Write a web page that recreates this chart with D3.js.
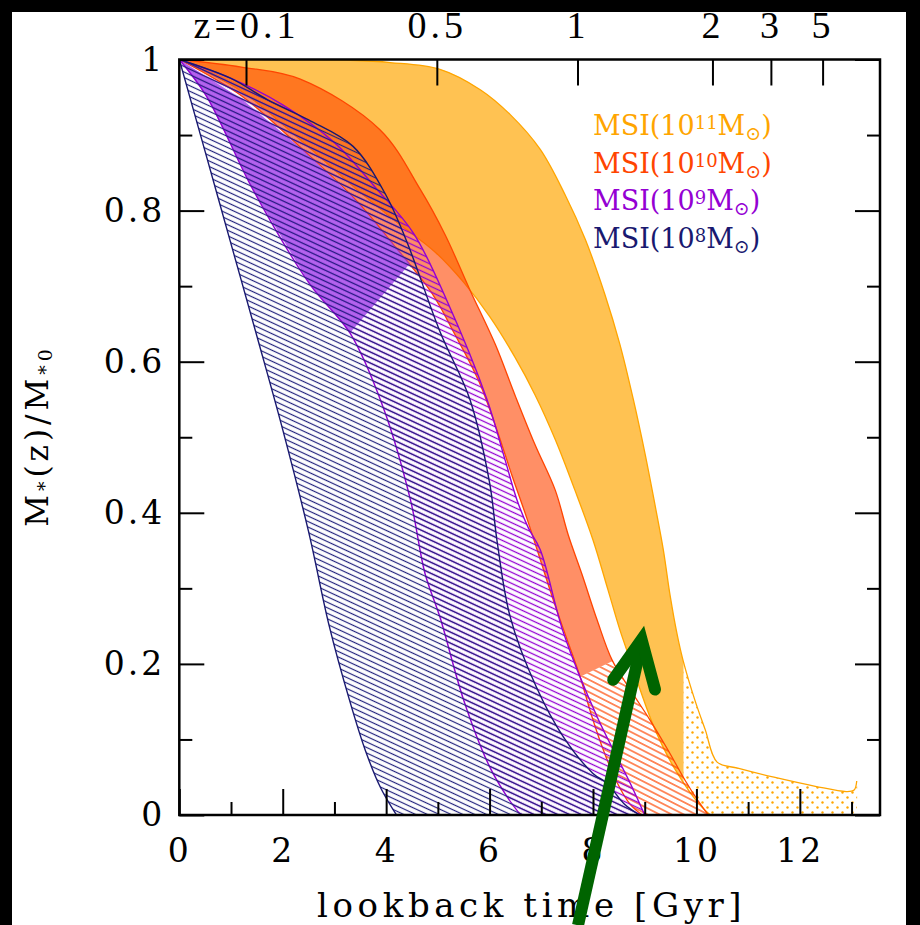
<!DOCTYPE html>
<html>
<head>
<meta charset="utf-8">
<script src="https://cdn.jsdelivr.net/npm/d3@7"></script>
<style>
  html, body { margin: 0; padding: 0; background: #000; }
  svg { display: block; }
</style>
</head>
<body>
<svg id="chart" width="920" height="925"></svg>
<script>
// ---- axes ----
const xMajor = [0, 2, 4, 6, 8, 10, 12];
const xMinor = [1, 3, 5, 7, 9, 11, 13];
const yMajor = [0, 0.2, 0.4, 0.6, 0.8, 1];
const yMinor = [0.1, 0.3, 0.5, 0.7, 0.9];
const yLabels = ["0", "0.2", "0.4", "0.6", "0.8", "1"];
// redshift ticks on the top axis, placed at their lookback time (Gyr)
const zLabels = ["z=0.1", "0.5", "1", "2", "3", "5"];
const zLookback = [1.29, 4.98, 7.70, 10.31, 11.44, 12.44];

// ---- MSI bands: [lookback time (Gyr), M*(z)/M*0] ----
const m11Outer = [[0,1],[2,1],[3.3,0.999],[4.08,0.996],[5.04,0.987],[5.82,0.96],[6.4,0.927],[6.98,0.881],[7.46,0.821],[7.85,0.762],[8.23,0.689],[8.52,0.623],[8.78,0.55],[9.01,0.477],[9.2,0.41],[9.36,0.351],[9.49,0.291],[9.63,0.238],[9.74,0.205],[9.97,0.152],[10.17,0.113],[10.4,0.07],[10.8,0.062],[11.5,0.05],[12.3,0.038],[12.9,0.031],[13.05,0.033],[13.1,0.045],[13.1,0]];
const m11Inner = [[0,1],[1.2,0.958],[2.4,0.89],[3.4,0.83],[4.2,0.785],[4.95,0.745],[5.5,0.705],[6.0,0.66],[6.49,0.606],[6.88,0.556],[7.27,0.497],[7.65,0.43],[8.0,0.364],[8.29,0.298],[8.52,0.245],[8.72,0.205],[8.91,0.166],[9.2,0.113],[9.59,0.06],[10.07,0.013],[10.27,0],[13.1,0]];
const m11Split = 9.75;   // dense fill below, dotted beyond

const m10Outer = [[0,1],[1.2,0.99],[2.34,0.974],[3.88,0.907],[4.66,0.828],[5.14,0.768],[5.62,0.695],[6.11,0.623],[6.49,0.556],[6.88,0.49],[7.27,0.43],[7.52,0.371],[7.79,0.318],[8.08,0.258],[8.37,0.205],[8.72,0.166],[9.1,0.126],[9.45,0.086],[9.78,0.046],[10.02,0.02],[10.23,0]];
const m10Inner = [[0,1],[1.2,0.952],[2.4,0.88],[3.4,0.815],[4.2,0.75],[4.89,0.69],[5.33,0.636],[5.78,0.576],[6.14,0.51],[6.43,0.45],[6.73,0.391],[6.98,0.338],[7.23,0.285],[7.5,0.232],[7.75,0.183],[7.98,0.13],[8.2,0.086],[8.45,0.045],[8.72,0.014],[8.95,0]];
const m10Cut = [[7.75,0.183],[8.42,0.205]];   // dense above, hatched below

const m9Outer = [[0,1],[1,0.975],[2,0.94],[3,0.89],[3.8,0.83],[4.53,0.77],[5.18,0.68],[5.95,0.55],[6.3,0.47],[6.53,0.417],[6.75,0.38],[6.98,0.351],[7.43,0.241],[8.08,0.13],[8.72,0.042],[9.0,0]];
const m9Inner = [[0,1],[0.53,0.951],[1.43,0.827],[2.53,0.702],[3.3,0.638],[3.94,0.54],[4.47,0.417],[4.75,0.32],[5.04,0.262],[5.5,0.152],[6.0,0.064],[6.34,0.024],[6.6,0]];
const m9Core = [[0,1],[0.53,0.951],[1.43,0.827],[2.53,0.702],[3.3,0.638],[4.46,0.73],[3.4,0.815],[2.4,0.88],[1.2,0.948],[0,1]];

const m8Outer = [[0,1],[1,0.975],[1.7,0.947],[2.5,0.92],[3.36,0.885],[4.0,0.82],[4.41,0.757],[5.04,0.64],[5.62,0.55],[6.0,0.44],[6.15,0.36],[6.4,0.262],[6.9,0.17],[7.43,0.103],[8.0,0.055],[8.27,0.042],[8.6,0.015],[8.9,0]];
const m8Inner = [[0,1],[0.5,0.878],[1.0,0.756],[1.5,0.634],[2.0,0.51],[2.5,0.375],[2.9,0.25],[3.3,0.15],[3.6,0.085],[3.9,0.035],[4.2,0]];

// ---- legend ----
const legendExp = ["11", "10", "9", "8"];
const legendColors = ["#ffa500", "#ff4500", "#9400d3", "#191970"];

// ---- annotation arrow ----
const arrowShaft = [[7.71,-0.146],[8.94,0.228]];
const arrowHead = [[8.39,0.179],[8.94,0.232],[9.2,0.166]];

// ================= drawing =================
const svg = d3.select("#chart");
const x = d3.scaleLinear().domain([0, 13.55]).range([179.3, 880]);
const y = d3.scaleLinear().domain([0, 1]).range([815, 59.5]);
const [x0, x1] = x.domain();

svg.append("rect").attr("x", 12).attr("y", 12).attr("width", 894).attr("height", 913).attr("fill", "#fff");

const defs = svg.append("defs");
function hatch(id, color, gap, angle, width) {
  const p = defs.append("pattern").attr("id", id)
    .attr("patternUnits", "userSpaceOnUse")
    .attr("width", 12).attr("height", gap)
    .attr("patternTransform", `rotate(${angle})`);
  p.append("line").attr("x1", 0).attr("x2", 12)
    .attr("y1", gap / 2).attr("y2", gap / 2)
    .attr("stroke", color).attr("stroke-width", width);
}
hatch("hNavy", "#23237e", 5, 25, 1.2);
hatch("hPurple", "#9400d3", 5, 25, 1.3);
hatch("hRed", "#ff4500", 5.5, 27, 1.2);
const dots = defs.append("pattern").attr("id", "dOrange")
  .attr("patternUnits", "userSpaceOnUse").attr("width", 10).attr("height", 10);
dots.append("circle").attr("cx", 2.5).attr("cy", 2.5).attr("r", 1.2).attr("fill", "#ffa500");
dots.append("circle").attr("cx", 7.5).attr("cy", 7.5).attr("r", 1.2).attr("fill", "#ffa500");

const line = d3.line().x(d => x(d[0])).y(d => y(d[1])).curve(d3.curveCatmullRom.alpha(0.5));
const poly = d3.line().x(d => x(d[0])).y(d => y(d[1]));
function band(outer, inner) {
  return line(outer) + line(inner.slice().reverse()).replace(/^M/, "L") + "Z";
}

// clip regions
defs.append("clipPath").attr("id", "plot").append("rect")
  .attr("x", x(x0)).attr("y", y(1)).attr("width", x(x1) - x(x0)).attr("height", y(0) - y(1));
defs.append("clipPath").attr("id", "dense11").append("rect")
  .attr("x", 0).attr("y", 0).attr("width", x(m11Split)).attr("height", 925);
defs.append("clipPath").attr("id", "dot11").append("rect")
  .attr("x", x(m11Split)).attr("y", 0).attr("width", 920 - x(m11Split)).attr("height", 925);

// split the 10^10 band along the cut line, extended flat to both ends of the axis
const cutLine = [[x0 - 1, m10Cut[0][1]], ...m10Cut, [x1 + 1, m10Cut[1][1]]];
defs.append("clipPath").attr("id", "top10").append("path")
  .attr("d", poly([[x0 - 1, 1.3], ...cutLine, [x1 + 1, 1.3]]) + "Z");
defs.append("clipPath").attr("id", "bot10").append("path")
  .attr("d", poly([[x0 - 1, -0.3], ...cutLine, [x1 + 1, -0.3]]) + "Z");

const plot = svg.append("g").attr("clip-path", "url(#plot)");

// 10^11 band
const g11 = plot.append("g");
g11.append("path").attr("d", band(m11Outer, m11Inner)).attr("fill", "#ffa500").attr("fill-opacity", 0.68).attr("clip-path", "url(#dense11)");
g11.append("path").attr("d", band(m11Outer, m11Inner)).attr("fill", "url(#dOrange)").attr("clip-path", "url(#dot11)");
g11.append("path").attr("d", line(m11Outer.slice(0, -1))).attr("fill", "none").attr("stroke", "#ffa500").attr("stroke-width", 1.3);
g11.append("path").attr("d", line(m11Inner.slice(0, -1))).attr("fill", "none").attr("stroke", "#ffa500").attr("stroke-width", 1.3);

// 10^10 band
const g10 = plot.append("g");
g10.append("path").attr("d", band(m10Outer, m10Inner)).attr("fill", "#ff4500").attr("fill-opacity", 0.6).attr("clip-path", "url(#top10)");
g10.append("path").attr("d", band(m10Outer, m10Inner)).attr("fill", "url(#hRed)").attr("clip-path", "url(#bot10)");
g10.append("path").attr("d", line(m10Outer)).attr("fill", "none").attr("stroke", "#ff4500").attr("stroke-width", 1.3);
g10.append("path").attr("d", line(m10Inner)).attr("fill", "none").attr("stroke", "#ff4500").attr("stroke-width", 1.3);

// 10^9 band
const g9 = plot.append("g");
g9.append("path").attr("d", band(m9Outer, m9Inner)).attr("fill", "url(#hPurple)");
g9.append("path").attr("d", poly(m9Core) + "Z").attr("fill", "#9b30e8").attr("fill-opacity", 0.75);
g9.append("path").attr("d", line(m9Outer)).attr("fill", "none").attr("stroke", "#9400d3").attr("stroke-width", 1.4);
g9.append("path").attr("d", line(m9Inner)).attr("fill", "none").attr("stroke", "#9400d3").attr("stroke-width", 1.4);

// 10^8 band
const g8 = plot.append("g");
g8.append("path").attr("d", band(m8Outer, m8Inner)).attr("fill", "url(#hNavy)");
g8.append("path").attr("d", line(m8Outer)).attr("fill", "none").attr("stroke", "#191970").attr("stroke-width", 1.4);
g8.append("path").attr("d", line(m8Inner)).attr("fill", "none").attr("stroke", "#191970").attr("stroke-width", 1.4);

// ---- axes ----
const fontNum = "'DejaVu Serif', serif";
function styleAxis(g) {
  g.select(".domain").remove();
  g.selectAll(".tick line").attr("stroke", "#000").attr("stroke-width", 2);
  g.selectAll(".tick text").attr("fill", "#000").style("font-family", fontNum).style("font-size", "33px").style("letter-spacing", "3px");
}
svg.append("g").attr("transform", `translate(0,${y(0)})`)
  .call(d3.axisBottom(x).tickValues(xMajor).tickSize(-26).tickPadding(24).tickFormat(d3.format("d")))
  .call(styleAxis);
svg.append("g").attr("transform", `translate(0,${y(0)})`)
  .call(d3.axisBottom(x).tickValues(xMinor).tickSize(-13).tickFormat(""))
  .call(styleAxis);
svg.append("g").attr("transform", `translate(${x(x0)},0)`)
  .call(d3.axisLeft(y).tickValues(yMajor).tickSize(-25).tickPadding(14).tickFormat((d, i) => yLabels[i]))
  .call(styleAxis);
svg.append("g").attr("transform", `translate(${x(x0)},0)`)
  .call(d3.axisLeft(y).tickValues(yMinor).tickSize(-13).tickFormat(""))
  .call(styleAxis);
svg.append("g").attr("transform", `translate(${x(x1)},0)`)
  .call(d3.axisRight(y).tickValues(yMajor).tickSize(-25).tickFormat(""))
  .call(styleAxis);
svg.append("g").attr("transform", `translate(${x(x1)},0)`)
  .call(d3.axisRight(y).tickValues(yMinor).tickSize(-13).tickFormat(""))
  .call(styleAxis);
const topAx = svg.append("g").attr("transform", `translate(0,${y(1)})`)
  .call(d3.axisTop(x).tickValues(zLookback).tickSize(-26).tickPadding(22).tickFormat((d, i) => zLabels[i]))
  .call(styleAxis);
topAx.selectAll(".tick text").style("font-family", "'Liberation Serif', serif").style("font-size", "38px").style("letter-spacing", "4px");

// frame
svg.append("rect").attr("x", x(x0)).attr("y", y(1)).attr("width", x(x1) - x(x0)).attr("height", y(0) - y(1))
  .attr("fill", "none").attr("stroke", "#000").attr("stroke-width", 2.5);

// axis titles
svg.append("text").attr("x", (x(x0) + x(x1)) / 2 + 2).attr("y", 917).attr("text-anchor", "middle")
  .style("font-family", fontNum).style("font-size", "34px").style("letter-spacing", "4.6px")
  .text("lookback time [Gyr]");
const yt = svg.append("text").attr("transform", "translate(48,436) rotate(-90)").attr("text-anchor", "middle")
  .style("font-family", fontNum).style("font-size", "31px").style("letter-spacing", "4px");
yt.append("tspan").text("M");
yt.append("tspan").attr("baseline-shift", "-15%").style("font-size", "19px").text("*");
yt.append("tspan").text("(z)/M");
yt.append("tspan").attr("baseline-shift", "-20%").style("font-size", "19px").text("*0");

// legend
legendExp.forEach((e, i) => {
  const t = svg.append("text").attr("x", 593).attr("y", 135 + i * 37.5)
    .attr("fill", legendColors[i])
    .style("font-family", fontNum).style("font-size", "27px");
  t.append("tspan").text("MSI(10");
  t.append("tspan").attr("baseline-shift", "35%").style("font-size", "18px").text(e);
  t.append("tspan").text("M");
  t.append("tspan").attr("baseline-shift", "-25%").style("font-size", "19px").text("\u2299");
  t.append("tspan").text(")");
});

// annotation arrow
svg.append("path").attr("d", poly(arrowShaft)).attr("stroke", "#006400").attr("stroke-width", 12).attr("fill", "none");
svg.append("path").attr("d", poly(arrowHead)).attr("stroke", "#006400").attr("stroke-width", 12)
  .attr("fill", "none").attr("stroke-linejoin", "miter").attr("stroke-linecap", "round");
</script>
</body>
</html>
